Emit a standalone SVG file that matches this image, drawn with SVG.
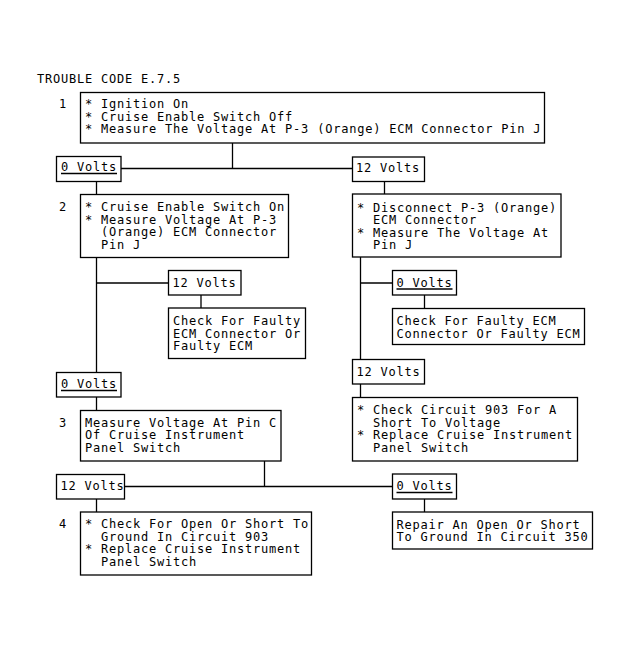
<svg xmlns="http://www.w3.org/2000/svg" width="631" height="651" viewBox="0 0 631 651">
<style>
rect{fill:none;stroke:#000;stroke-width:1.3}
line{stroke:#000;stroke-width:1.3}
text{font-family:"DejaVu Sans Mono","Liberation Mono",monospace;font-size:12px;letter-spacing:0.78px;fill:#000}
</style>
<rect x="0" y="0" width="631" height="651" style="fill:#fff;stroke:none"/>
<text x="37" y="83">TROUBLE CODE E.7.5</text>
<g id="connectors">
<line x1="232.5" y1="143" x2="232.5" y2="168.5"/>
<line x1="121" y1="168.5" x2="352.5" y2="168.5"/>
<line x1="96.5" y1="181.5" x2="96.5" y2="194.5"/>
<line x1="384.5" y1="181.5" x2="384.5" y2="194"/>
<line x1="96.5" y1="257.5" x2="96.5" y2="372.5"/>
<line x1="96.5" y1="283" x2="168.5" y2="283"/>
<line x1="201" y1="295" x2="201" y2="308"/>
<line x1="360.5" y1="257" x2="360.5" y2="359.5"/>
<line x1="360.5" y1="283" x2="392.5" y2="283"/>
<line x1="424.5" y1="295" x2="424.5" y2="308.5"/>
<line x1="96.5" y1="397" x2="96.5" y2="410.5"/>
<line x1="360.5" y1="384" x2="360.5" y2="397.5"/>
<line x1="264.5" y1="461" x2="264.5" y2="486.5"/>
<line x1="124.5" y1="486.5" x2="392.5" y2="486.5"/>
<line x1="96.5" y1="499" x2="96.5" y2="512"/>
<line x1="424.5" y1="499" x2="424.5" y2="512"/>
</g>
<g id="step1">
<text x="59" y="108">1</text>
<rect x="80.5" y="92.5" width="464" height="50.5"/>
<text x="85" y="108">* Ignition On</text>
<text x="85" y="120.5">* Cruise Enable Switch Off</text>
<text x="85" y="133">* Measure The Voltage At P-3 (Orange) ECM Connector Pin J</text>
</g>
<g id="v0a">
<rect x="56.5" y="156.5" width="64.5" height="25"/>
<text x="61" y="171">0 Volts</text>
<line x1="61" y1="173.5" x2="117" y2="173.5"/>
</g>
<g id="v12a">
<rect x="352.5" y="157" width="72" height="24.5"/>
<text x="356" y="172">12 Volts</text>
</g>
<g id="step2">
<text x="59" y="211">2</text>
<rect x="80.5" y="194.5" width="208" height="63"/>
<text x="85" y="211">* Cruise Enable Switch On</text>
<text x="85" y="223.5">* Measure Voltage At P-3</text>
<text x="101" y="236">(Orange) ECM Connector</text>
<text x="101" y="248.5">Pin J</text>
</g>
<g id="step2r">
<rect x="352.5" y="194" width="208.5" height="63"/>
<text x="357" y="211.5">* Disconnect P-3 (Orange)</text>
<text x="373" y="224">ECM Connector</text>
<text x="357" y="236.5">* Measure The Voltage At</text>
<text x="373" y="249">Pin J</text>
</g>
<g id="v12b">
<rect x="168.5" y="270.5" width="72.5" height="24.5"/>
<text x="172.5" y="287">12 Volts</text>
</g>
<g id="fault1">
<rect x="168.5" y="308" width="137" height="50.5"/>
<text x="173" y="325">Check For Faulty</text>
<text x="173" y="337.5">ECM Connector Or</text>
<text x="173" y="350">Faulty ECM</text>
</g>
<g id="v0b">
<rect x="392.5" y="270.5" width="64" height="24.5"/>
<text x="396.5" y="286.5">0 Volts</text>
<line x1="396.5" y1="289" x2="452.5" y2="289"/>
</g>
<g id="fault2">
<rect x="392.5" y="308.5" width="192" height="36"/>
<text x="396.5" y="325">Check For Faulty ECM</text>
<text x="396.5" y="337.5">Connector Or Faulty ECM</text>
</g>
<g id="v0c">
<rect x="56.5" y="372.5" width="64.5" height="24.5"/>
<text x="61" y="388">0 Volts</text>
<line x1="61" y1="390.5" x2="117" y2="390.5"/>
</g>
<g id="v12c">
<rect x="352.5" y="359.5" width="72" height="24.5"/>
<text x="356.5" y="376">12 Volts</text>
</g>
<g id="step3">
<text x="59" y="426.5">3</text>
<rect x="80.5" y="410.5" width="200.5" height="50.5"/>
<text x="85" y="426.5">Measure Voltage At Pin C</text>
<text x="85" y="439">Of Cruise Instrument</text>
<text x="85" y="451.5">Panel Switch</text>
</g>
<g id="step3r">
<rect x="352.5" y="397.5" width="225" height="63.5"/>
<text x="357" y="414">* Check Circuit 903 For A</text>
<text x="373" y="426.5">Short To Voltage</text>
<text x="357" y="439">* Replace Cruise Instrument</text>
<text x="373" y="451.5">Panel Switch</text>
</g>
<g id="v12d">
<rect x="56.5" y="474.5" width="68" height="24.5"/>
<text x="60.5" y="490">12 Volts</text>
</g>
<g id="v0d">
<rect x="392.5" y="474" width="64" height="25"/>
<text x="396.5" y="490">0 Volts</text>
<line x1="396.5" y1="492.5" x2="452.5" y2="492.5"/>
</g>
<g id="step4">
<text x="59" y="528">4</text>
<rect x="80.5" y="512" width="231" height="63"/>
<text x="85" y="528">* Check For Open Or Short To</text>
<text x="101" y="540.5">Ground In Circuit 903</text>
<text x="85" y="553">* Replace Cruise Instrument</text>
<text x="101" y="565.5">Panel Switch</text>
</g>
<g id="step4r">
<rect x="392.5" y="512" width="200" height="37"/>
<text x="396.5" y="528.5">Repair An Open Or Short</text>
<text x="396.5" y="541">To Ground In Circuit 350</text>
</g>
</svg>
